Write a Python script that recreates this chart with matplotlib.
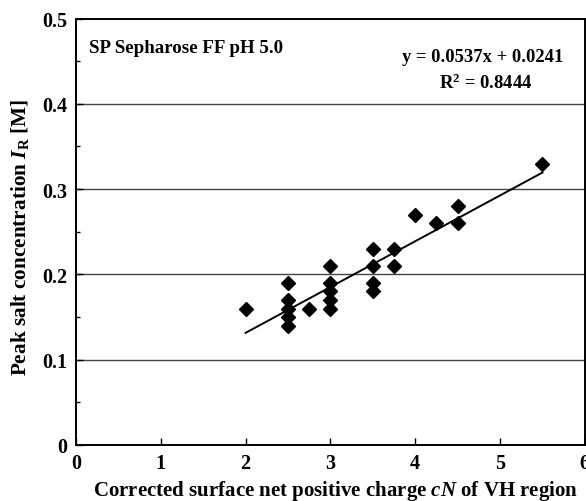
import matplotlib
matplotlib.use("Agg")
import matplotlib.pyplot as plt
import numpy as np

# Corrected surface net positive charge cN of VH region
charge = [2.0,
          2.5, 2.5, 2.5, 2.5, 2.5,
          2.75,
          3.0, 3.0, 3.0, 3.0, 3.0,
          3.5, 3.5, 3.5, 3.5,
          3.75, 3.75,
          4.0, 4.25, 4.5, 4.5, 5.5]
# Peak salt concentration I_R [M]
salt = [0.16,
        0.19, 0.17, 0.16, 0.15, 0.14,
        0.16,
        0.21, 0.19, 0.18, 0.17, 0.16,
        0.23, 0.21, 0.19, 0.18,
        0.23, 0.21,
        0.27, 0.26, 0.28, 0.26, 0.33]

slope = 0.0537
intercept = 0.0241
r_squared = 0.8444

x_ticks = [0, 1, 2, 3, 4, 5, 6]
y_ticks = [0, 0.1, 0.2, 0.3, 0.4, 0.5]
y_tick_labels = ["0", "0.1", "0.2", "0.3", "0.4", "0.5"]

plt.rcParams["font.family"] = ["Liberation Serif", "DejaVu Serif"]
plt.rcParams["mathtext.fontset"] = "custom"
plt.rcParams["mathtext.rm"] = "Liberation Serif:bold"
plt.rcParams["mathtext.it"] = "Liberation Serif:italic:bold"
plt.rcParams["mathtext.bf"] = "Liberation Serif:bold"

fig = plt.figure(figsize=(5.86, 5.02), dpi=100)
ax = fig.add_axes([0.1297, 0.1116, 0.8683, 0.8494])

ax.set_xlim(0, 6)
ax.set_ylim(0, 0.5)

for yv in y_ticks[1:-1]:
    ax.axhline(yv, color="#444444", lw=1.0, zorder=1)

ax.plot(charge, salt, linestyle="none", marker="D", ms=6.8,
        color="black", zorder=3)

xf = np.array([min(charge), max(charge)])
ax.plot(xf, slope * xf + intercept, color="black", lw=1.4, zorder=2)

ax.set_xticks(x_ticks)
ax.set_xticklabels([str(v) for v in x_ticks])
ax.set_yticks(y_ticks)
ax.set_yticklabels(y_tick_labels)
ax.set_yticks([0.05, 0.15, 0.25, 0.35, 0.45], minor=True)
ax.tick_params(axis="both", which="major", direction="in", length=5,
               width=1.0, labelsize=14.5)
ax.tick_params(axis="y", which="minor", direction="in", length=3, width=1.0)
ax.tick_params(axis="x", pad=6)
ax.tick_params(axis="y", pad=6)
for lab in ax.get_xticklabels() + ax.get_yticklabels():
    lab.set_fontweight("bold")

for sp in ax.spines.values():
    sp.set_linewidth(1.4)

ax.text(0.15, 0.466, "SP Sepharose FF pH 5.0", fontsize=13.6,
        fontweight="bold", va="center", ha="left")
ax.text(4.79, 0.455, f"y = {slope:.4f}x + {intercept:.4f}", fontsize=13.4,
        fontweight="bold", va="center", ha="center")
ax.text(4.83, 0.425, f"R$^2$ = {r_squared:.4f}", fontsize=13.4,
        fontweight="bold", va="center", ha="center")

ax.set_xlabel(r"Corrected surface net positive charge $cN$ of VH region",
              fontsize=15, fontweight="bold")
ax.xaxis.set_label_coords(0.51, -0.105)
ax.xaxis.label.set_va("center")
ax.set_ylabel(r"Peak salt concentration $I_\mathrm{R}$ [M]",
              fontsize=15.3, fontweight="bold")
ax.yaxis.set_label_coords(-0.11, 0.49)
ax.yaxis.label.set_va("center")

fig.savefig("out.png", dpi=100)
